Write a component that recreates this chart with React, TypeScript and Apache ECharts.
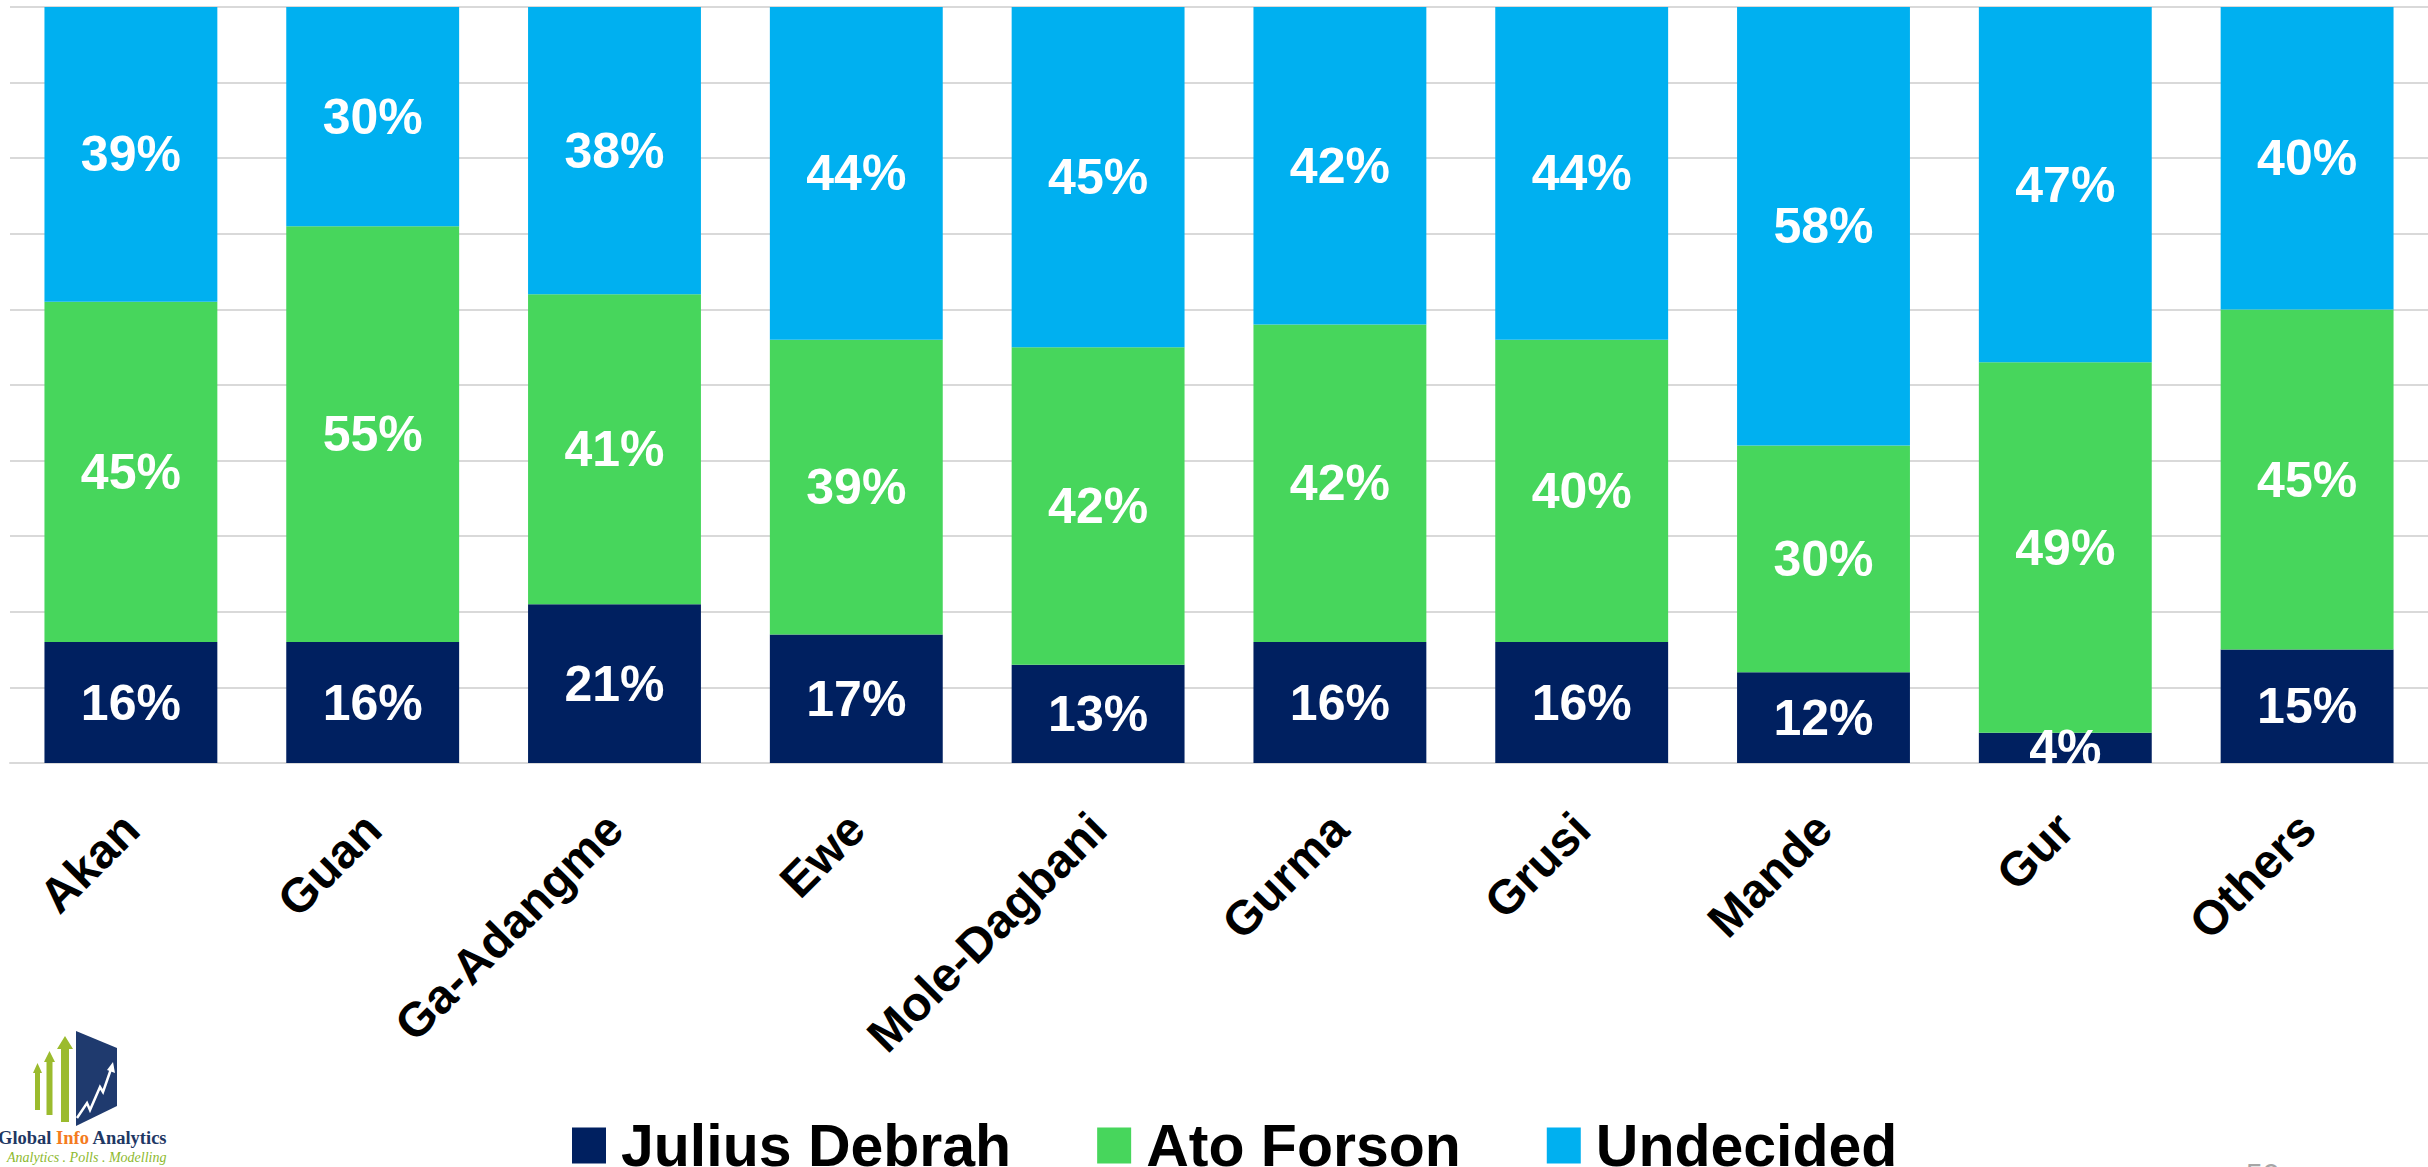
import React, { useEffect, useRef } from "react";
import * as echarts from "echarts";

const categories = ["Akan", "Guan", "Ga-Adangme", "Ewe", "Mole-Dagbani", "Gurma", "Grusi", "Mande", "Gur", "Others"];
const juliusDebrah = [16, 16, 21, 17, 13, 16, 16, 12, 4, 15];
const atoForson = [45, 55, 41, 39, 42, 42, 40, 30, 49, 45];
const undecided = [39, 30, 38, 44, 45, 42, 44, 58, 47, 40];
const seriesNames = ["Julius Debrah", "Ato Forson", "Undecided"];
const seriesColors = ["#002060", "#47D65C", "#00B0F0"];

const FONT = "'Liberation Sans', Arial, sans-serif";

export default function App() {
  const ref = useRef<HTMLDivElement>(null);
  useEffect(() => {
    document.body.style.margin = "0";
    if (!ref.current) return;
    const chart = echarts.init(ref.current, null, { renderer: "svg" });
    const values = [juliusDebrah, atoForson, undecided];
    const series = values.map((d, i) => ({
      name: seriesNames[i],
      type: "bar",
      stack: "total",
      data: d,
      barCategoryGap: "28.5%",
      itemStyle: { color: seriesColors[i] },
      label: {
        show: true,
        position: "inside",
        formatter: "{c}%",
        color: "#FFFFFF",
        fontFamily: FONT,
        fontWeight: "bold",
        fontSize: 50,
      },
    }));
    chart.setOption({
      animation: false,
      grid: { left: 10, top: 7, width: 2434, height: 756, containLabel: false },
      xAxis: {
        type: "category",
        data: categories,
        axisLine: { show: true, lineStyle: { color: "#D9D9D9", width: 2 } },
        axisTick: { show: false },
        axisLabel: {
          interval: 0,
          rotate: 45,
          margin: 58,
          color: "#000000",
          fontFamily: FONT,
          fontWeight: "bold",
          fontSize: 48,
        },
      },
      yAxis: {
        type: "value",
        min: 0,
        max: 100,
        interval: 10,
        axisLabel: { show: false },
        axisLine: { show: false },
        axisTick: { show: false },
        splitLine: { show: true, lineStyle: { color: "#D9D9D9", width: 2 } },
      },
      legend: {
        left: 567,
        top: 1111,
        itemWidth: 34,
        itemHeight: 36,
        itemGap: 86,
        icon: "rect",
        textStyle: {
          color: "#000000",
          fontFamily: FONT,
          fontWeight: "bold",
          fontSize: 59,
          padding: [0, 0, 0, 10],
        },
        data: seriesNames,
      },
      graphic: [
        {
          type: "rect",
          z: 100,
          shape: { x: 0, y: 765, width: 2428, height: 22 },
          style: { fill: "#FFFFFF" },
        },
        // logo arrows
        {
          type: "polygon",
          shape: { points: [[33, 1073], [37.5, 1063], [42, 1073], [40, 1073], [40, 1110], [35, 1110], [35, 1073]] },
          style: { fill: "#9BBB2E" },
        },
        {
          type: "polygon",
          shape: { points: [[44, 1062], [49.5, 1051], [55, 1062], [52.5, 1062], [52.5, 1115], [46.5, 1115], [46.5, 1062]] },
          style: { fill: "#9BBB2E" },
        },
        {
          type: "polygon",
          shape: { points: [[57, 1049], [65, 1036], [73, 1049], [69, 1049], [69, 1122], [61, 1122], [61, 1049]] },
          style: { fill: "#9BBB2E" },
        },
        {
          type: "polygon",
          shape: { points: [[76, 1031], [117, 1048], [117, 1106], [76, 1126]] },
          style: { fill: "#1F3A6E" },
        },
        {
          type: "polyline",
          shape: { points: [[77, 1118], [87, 1103], [90, 1110], [100, 1087], [103, 1092], [111, 1069]] },
          style: { stroke: "#FFFFFF", lineWidth: 2.5, fill: "none" },
        },
        {
          type: "polygon",
          shape: { points: [[107, 1070], [113, 1062], [115, 1073]] },
          style: { fill: "#FFFFFF" },
        },
        {
          type: "text",
          x: -2,
          y: 1128,
          style: {
            text: "{a|Global }{b|Info}{a| Analytics}",
            rich: {
              a: { fontFamily: "'Liberation Serif', serif", fontWeight: "bold", fontSize: 18.5, fill: "#1F3864" },
              b: { fontFamily: "'Liberation Serif', serif", fontWeight: "bold", fontSize: 18.5, fill: "#F47B20" },
            },
          },
        },
        {
          type: "text",
          x: 7,
          y: 1150,
          style: {
            text: "Analytics . Polls . Modelling",
            fontFamily: "'Liberation Serif', serif",
            fontStyle: "italic",
            fontSize: 14,
            fill: "#8DB92E",
          },
        },
        {
          type: "text",
          x: 2246,
          y: 1158,
          style: { text: "50", fontFamily: FONT, fontSize: 30, fill: "#A6A6A6" },
        },
      ],
      series,
    });
    return () => chart.dispose();
  }, []);
  return <div ref={ref} style={{ width: 2428, height: 1167 }} />;
}
